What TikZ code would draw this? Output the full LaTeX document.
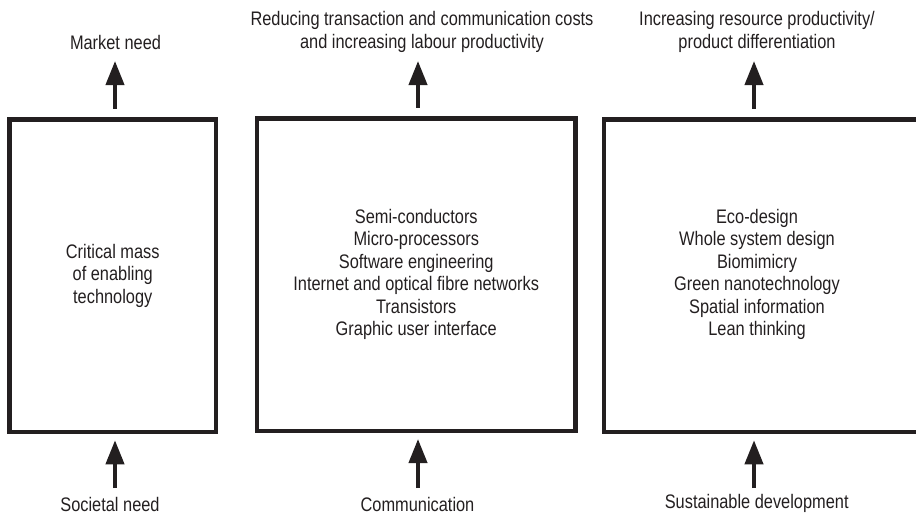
\documentclass[tikz,border=0pt]{standalone}
\usepackage{fontspec}
\setmainfont{Liberation Sans}[FakeStretch=0.835]
\usetikzlibrary{arrows.meta}
\definecolor{ink}{HTML}{231F20}
\newcommand{\lblfont}{\fontsize{19.6}{22.5}\selectfont}
\begin{document}
\begin{tikzpicture}[x=1pt,y=-1pt,
  box/.style={draw=ink, line width=4.5pt, minimum height=312.5pt, inner sep=0pt, align=center, font=\lblfont, text=ink},
  lbl/.style={inner sep=0pt, align=center, font=\lblfont, text=ink},
  arr/.style={draw=ink, line width=4pt, -{Triangle[width=18pt,length=24pt]}}]
\useasboundingbox (0,0) rectangle (916,514);
% boxes
\node[box, minimum width=206.5pt] (b1) at (112.75,275.75) {Critical mass\\of enabling\\technology};
\node[box, minimum width=318.5pt] (b2) at (416.25,274.5) {Semi-conductors\\Micro-processors\\Software engineering\\Internet and optical fibre networks\\Transistors\\Graphic user interface};
\node[box, minimum width=324pt] (b3) at (766,275.75) {};
\node[lbl] (t3) at (757,274.5) {Eco-design\\Whole system design\\Biomimicry\\Green nanotechnology\\Spatial information\\Lean thinking};
% top labels
\node[lbl] (m1) at (115.5,42) {Market need};
\node[lbl] (m2) at (422,32) {Reducing transaction and communication costs\\and increasing labour productivity};
\node[lbl] (m3) at (757,32) {Increasing resource productivity/\\product differentiation};
% bottom labels
\node[lbl] (s1) at (110,504) {Societal need};
\node[lbl] (s2) at (417.5,504) {Communication};
\node[lbl] (s3) at (756.7,503) {Sustainable development};
% arrow axes
\coordinate (a1) at (115,0);
\coordinate (a2) at (418,0);
\coordinate (a3) at (754,0);
% arrows
\draw[arr, shorten <=8.5pt, shorten >=19pt] (b1.north -| a1) -- (m1.center -| a1);
\draw[arr, shorten <=8.5pt, shorten >=29pt] (b2.north -| a2) -- (m2.center -| a2);
\draw[arr, shorten <=8.5pt, shorten >=29pt] (b3.north -| a3) -- (m3.center -| a3);
\draw[arr, shorten <=16pt, shorten >=6pt] (s1.center -| a1) -- (b1.south -| a1);
\draw[arr, shorten <=16pt, shorten >=6pt] (s2.center -| a2) -- (b2.south -| a2);
\draw[arr, shorten <=15pt, shorten >=6pt] (s3.center -| a3) -- (b3.south -| a3);
\end{tikzpicture}
\end{document}
